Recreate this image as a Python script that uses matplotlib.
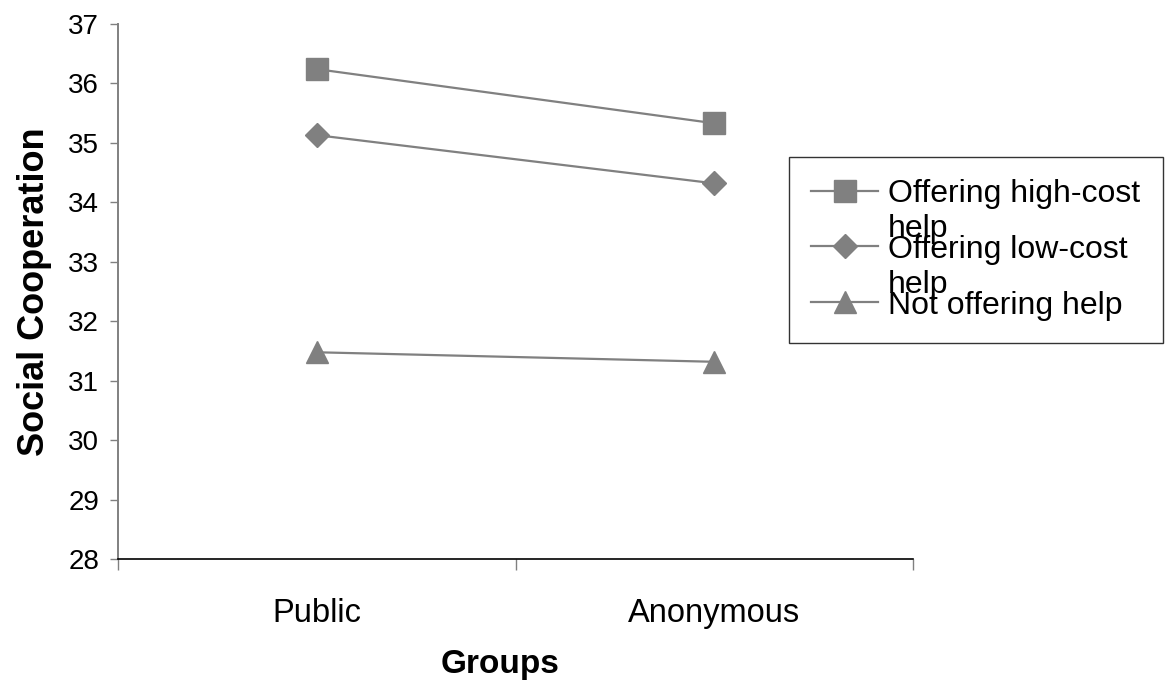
import numpy as np
import matplotlib
matplotlib.use('Agg')
import matplotlib.pyplot as plt

plt.rcParams['font.family'] = ['Liberation Sans', 'DejaVu Sans']

groups = ['Public', 'Anonymous']
high_cost = [36.24, 35.33]
low_cost = [35.13, 34.32]
no_help = [31.48, 31.32]
labels = ['Offering high-cost\nhelp', 'Offering low-cost\nhelp', 'Not offering help']

grey = '#808080'

fig = plt.figure(figsize=(11.67, 6.93), dpi=100)
ax = fig.add_axes([0.1015, 0.193, 0.681, 0.7724])

x = np.arange(len(groups))
ax.plot(x, high_cost, color=grey, lw=1.6, marker='s', ms=15.5, mec=grey, label=labels[0])
ax.plot(x, low_cost, color=grey, lw=1.6, marker='D', ms=12.2, mec=grey, label=labels[1])
ax.plot(x, no_help, color=grey, lw=1.6, marker='^', ms=16.5, mec=grey, label=labels[2])

ax.set_xlim(-0.5, 1.5)
ax.set_ylim(28, 37)
ax.set_yticks(np.arange(28, 38, 1))

ax.set_xticks(x)
ax.set_xticklabels(groups, fontsize=23.5)
ax.set_xticks([-0.5, 0.5, 1.5], minor=True)
ax.tick_params(axis='x', which='major', length=0, pad=28)
ax.tick_params(axis='x', which='minor', length=8, width=1, color=grey, direction='out')
ax.tick_params(axis='y', labelsize=20, length=6, width=1, color=grey, direction='out', pad=8)

for s in ['top', 'right']:
    ax.spines[s].set_visible(False)
ax.spines['left'].set_color(grey)
ax.spines['left'].set_linewidth(1.4)
ax.spines['bottom'].set_color('black')
ax.spines['bottom'].set_linewidth(1.2)

ax.set_xlabel('Groups', fontsize=24, fontweight='bold')
ax.xaxis.set_label_coords(0.48, -0.168)
ax.set_ylabel('Social Cooperation', fontsize=26, fontweight='bold')
ax.yaxis.set_label_coords(-0.084, 0.5)

leg = fig.legend(loc='upper left', bbox_to_anchor=(789 / 1167, 1 - 157 / 693),
                 fontsize=23, frameon=True, fancybox=False, edgecolor='black',
                 borderpad=0.7, handlelength=2.1, handletextpad=0.3,
                 labelspacing=-0.29, borderaxespad=0)
leg.get_frame().set_linewidth(1.0)
for t in leg.get_texts():
    t.set_linespacing(1.22)
# put the handle next to the first line of each wrapped label
for col in leg._legend_handle_box.get_children():
    for item in col.get_children():
        item.align = 'top'

fig.savefig('out.png', dpi=100)
